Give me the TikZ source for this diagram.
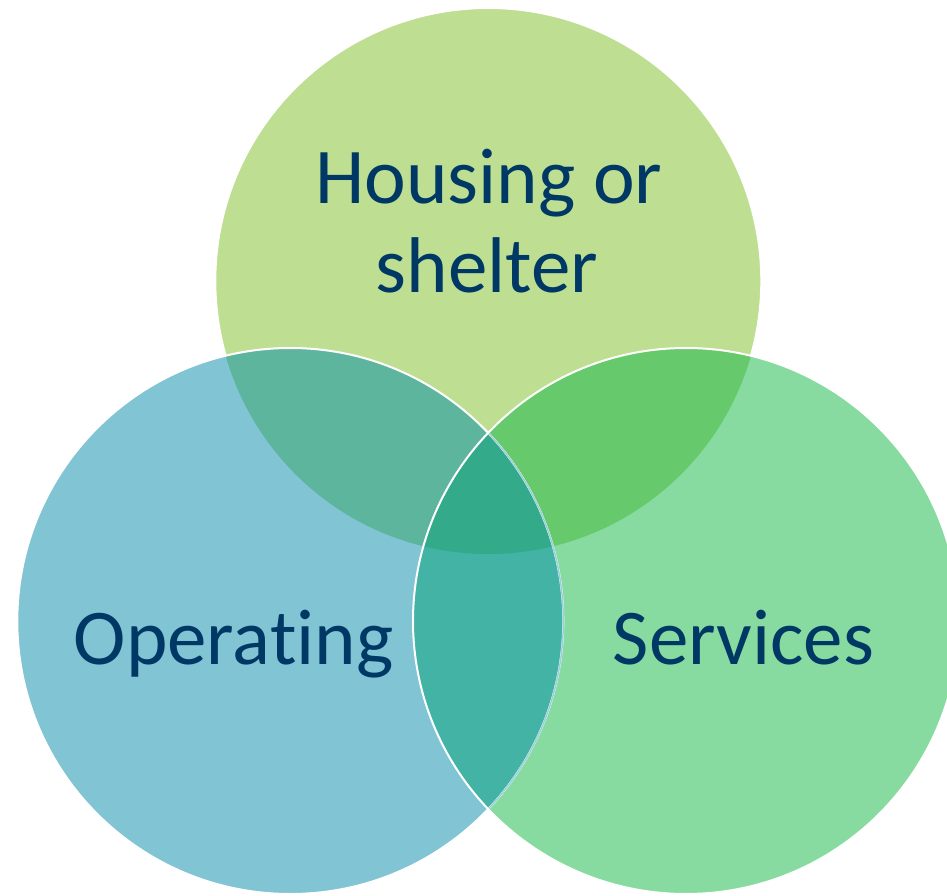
\documentclass[tikz,border=0pt]{standalone}
\usepackage{fontspec}
\setmainfont{Carlito}[Ligatures={NoCommon}]
\definecolor{cTop}{HTML}{BEDE91}
\definecolor{cLeft}{HTML}{81C4D4}
\definecolor{cRight}{HTML}{88DBA0}
\definecolor{cTL}{HTML}{5EB59E}
\definecolor{cTR}{HTML}{66C96B}
\definecolor{cLR}{HTML}{43B3A5}
\definecolor{cAll}{HTML}{33AA8A}
\definecolor{cText}{HTML}{003865}
\tikzset{
  lbl/.style={text=cText, font=\fontsize{79}{94}\selectfont, inner sep=0pt, anchor=base},
  rim/.style={draw=white, line width=2pt}
}
\begin{document}
\begin{tikzpicture}[x=1pt,y=1pt]
\useasboundingbox (0,0) rectangle (947,895);
\clip (0,0) rectangle (947,895);
\def\R{273}
\coordinate (T) at (488.3,614);
\coordinate (L) at (290.3,274);
\coordinate (Rc) at (686,274);
% base circles
\fill[cTop] (T) circle (\R);
\draw[rim] (T) circle (\R);
\fill[cLeft] (L) circle (\R);
\fill[cRight] (Rc) circle (\R);
% pairwise overlaps
\begin{scope}\clip (T) circle (\R); \fill[cTL] (L) circle (\R); \end{scope}
\begin{scope}\clip (T) circle (\R); \fill[cTR] (Rc) circle (\R); \end{scope}
\begin{scope}\clip (L) circle (\R); \fill[cLR] (Rc) circle (\R); \end{scope}
\begin{scope}\clip (T) circle (\R); \clip (L) circle (\R); \fill[cAll] (Rc) circle (\R); \end{scope}
% rims
\draw[rim] (L) circle (\R);
\begin{scope}\clip (Rc) circle (\R); \draw[draw=cLeft!80!white, line width=1.5pt] (L) circle (\R); \end{scope}
\draw[rim] (Rc) circle (\R);
% labels
\node[lbl] (housing) at (489,691) {Housing or};
\node[lbl] (shelter) at (487,602) {shelter};
\node[lbl] (operating) at (233.5,231) {Operating};
\node[lbl] (services) at (743.5,231) {Services};
\end{tikzpicture}
\end{document}
